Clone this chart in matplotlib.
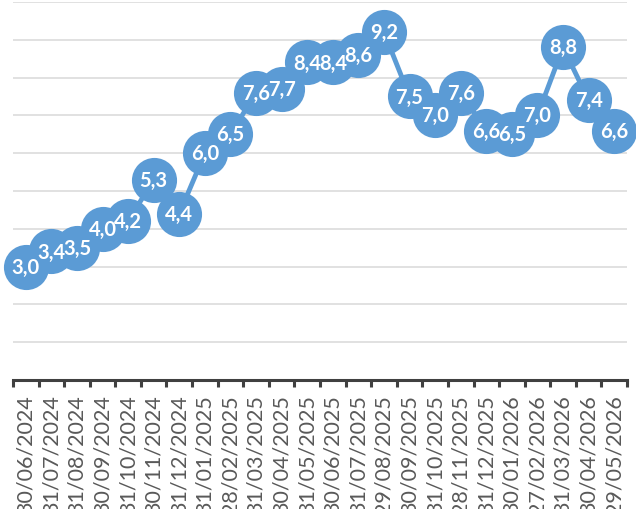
import matplotlib
matplotlib.use("Agg")
import matplotlib.pyplot as plt
import numpy as np

dates = ["30/06/2024", "31/07/2024", "31/08/2024", "30/09/2024", "31/10/2024",
         "30/11/2024", "31/12/2024", "31/01/2025", "28/02/2025", "31/03/2025",
         "30/04/2025", "31/05/2025", "30/06/2025", "31/07/2025", "29/08/2025",
         "30/09/2025", "31/10/2025", "28/11/2025", "31/12/2025", "30/01/2026",
         "27/02/2026", "31/03/2026", "30/04/2026", "29/05/2026"]
values = [3.0, 3.4, 3.5, 4.0, 4.2, 5.3, 4.4, 6.0, 6.5, 7.6, 7.7, 8.4,
          8.4, 8.6, 9.2, 7.5, 7.0, 7.6, 6.6, 6.5, 7.0, 8.8, 7.4, 6.6]

blue = "#5B9BD5"
plt.rcParams["font.family"] = ["Lato", "DejaVu Sans"]

fig = plt.figure(figsize=(6.36, 5.10), dpi=100)
ax = fig.add_axes([13 / 636, 129 / 510, 614 / 636, 378 / 510])

x = np.arange(len(values))
ax.plot(x, values, color=blue, lw=3.5, zorder=2, marker="o", ms=32.5,
        mew=0, clip_on=False)

# data labels on top of all markers
for xi, v in zip(x, values):
    ax.text(xi, v, f"{v:.1f}".replace(".", ","), color="white",
            fontsize=14.5, fontweight="bold", ha="center", va="center",
            zorder=5, clip_on=False)

ax.set_xlim(-0.5, len(values) - 0.5)
ax.set_ylim(0, 10)
ax.set_yticks(np.arange(1, 11))
ax.yaxis.grid(True, color="#D9D9D9", lw=1.1)
ax.set_axisbelow(True)
ax.tick_params(axis="y", left=False, labelleft=False)

for s in ["top", "right", "left"]:
    ax.spines[s].set_visible(False)
ax.spines["bottom"].set_color("#404040")
ax.spines["bottom"].set_linewidth(2.2)

ax.set_xticks(x)
ax.set_xticklabels(dates, rotation=90, fontsize=15.5, color="#595959")
ax.tick_params(axis="x", length=0, pad=10)
ax.set_xticks(np.arange(-0.5, len(values)), minor=True)
ax.tick_params(axis="x", which="minor", length=5, width=2.2, color="#404040",
               direction="out")

fig.savefig("out.png", dpi=100, facecolor="white")
